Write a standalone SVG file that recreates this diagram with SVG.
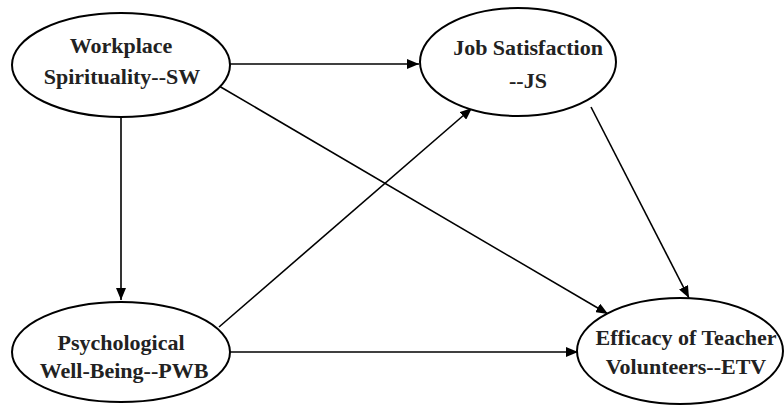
<svg xmlns="http://www.w3.org/2000/svg" width="784" height="405" viewBox="0 0 784 405">
<style>
.node ellipse{fill:#fff;stroke:#000;stroke-width:2}
.node text{font-family:"Liberation Serif","Times New Roman",serif;font-weight:bold;font-size:22px;fill:#222;text-anchor:middle}
.edges line{stroke:#000;stroke-width:1.6;marker-end:url(#ah)}
</style>
<defs>
<marker id="ah" viewBox="0 0 12 10" refX="12" refY="5" markerWidth="12" markerHeight="10" markerUnits="userSpaceOnUse" orient="auto">
<path d="M0,0 L12,5 L0,10 z" fill="#000"/>
</marker>
</defs>
<rect width="784" height="405" fill="#fff"/>
<g class="edges">
<line x1="230" y1="64" x2="419" y2="64"/>
<line x1="121" y1="117" x2="121" y2="300"/>
<line x1="219" y1="86" x2="608" y2="314"/>
<line x1="219" y1="327" x2="472" y2="108"/>
<line x1="230" y1="352" x2="578" y2="352"/>
<line x1="591" y1="107" x2="689" y2="298"/>
</g>
<g id="SW" class="node">
<ellipse cx="121" cy="65" rx="109" ry="52"/>
<text x="121" y="53">Workplace</text>
<text x="122" y="84">Spirituality--SW</text>
</g>
<g id="JS" class="node">
<ellipse cx="518" cy="62" rx="98" ry="54"/>
<text x="528" y="55">Job Satisfaction</text>
<text x="528" y="88">--JS</text>
</g>
<g id="PWB" class="node">
<ellipse cx="121" cy="352" rx="109" ry="50"/>
<text x="121" y="350">Psychological</text>
<text x="124" y="378">Well-Being--PWB</text>
</g>
<g id="ETV" class="node">
<ellipse cx="680" cy="351" rx="103" ry="53"/>
<text x="686" y="345">Efficacy of Teacher</text>
<text x="686" y="374">Volunteers--ETV</text>
</g>
</svg>
